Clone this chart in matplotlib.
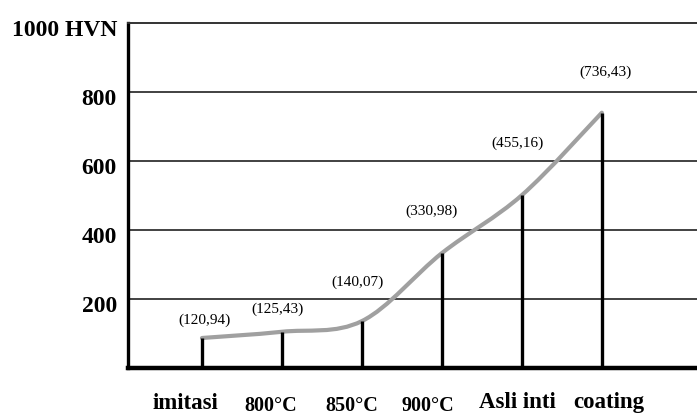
import numpy as np
import matplotlib
matplotlib.use("Agg")
import matplotlib.pyplot as plt
from matplotlib.path import Path
from matplotlib.patches import PathPatch
from matplotlib.transforms import ScaledTranslation

# data
categories = ["imitasi", "800°C", "850°C", "900°C", "Asli inti", "coating"]
stem_heights = [87, 105, 136, 333, 501, 740]          # drawn height of each stem
value_labels = ["(120,94)", "(125,43)", "(140,07)", "(330,98)", "(455,16)", "(736,43)"]
y_ticks = [200, 400, 600, 800, 1000]
y_tick_labels = ["200", "400", "600", "800", "1000 HVN"]

# placement tweaks (pixels)
label_dx = [3, -4, -4, -10, -4, 4]
label_dy = [18, 23, 39, 42, 52, 40]
cat_dx = [-17, -11, -10, -14, -4, 7]
cat_size = [16.5, 14.5, 14.5, 14.5, 16.5, 16.5]
cat_base = [-0.120, -0.124, -0.124, -0.124, -0.116, -0.116]

plt.rcParams['font.family'] = ['Liberation Serif', 'DejaVu Serif']

fig = plt.figure(figsize=(6.97, 4.16), dpi=100)
ax = fig.add_axes([128 / 697, 1 - 368 / 416, 1 - 128 / 697, 345 / 416])

x = np.arange(len(categories))
ax.set_xlim(-0.925, 6.19)
ax.set_ylim(0, 1000)

# grid lines
for yv in y_ticks[:-1]:
    ax.axhline(yv, color='#333333', lw=1.3, zorder=1)

# smooth grey curve through stem tops (Catmull-Rom as bezier path)
pts = np.column_stack([x, stem_heights]).astype(float)
ext = np.vstack([pts[0], pts, pts[-1]])
verts = [tuple(pts[0])]
codes = [Path.MOVETO]
for i in range(len(pts) - 1):
    p0, p1, p2, p3 = ext[i], ext[i + 1], ext[i + 2], ext[i + 3]
    c1 = p1 + (p2 - p0) / 6
    c2 = p2 - (p3 - p1) / 6
    verts += [tuple(c1), tuple(c2), tuple(p2)]
    codes += [Path.CURVE4] * 3
ax.add_patch(PathPatch(Path(verts, codes), facecolor='none', edgecolor='#a0a0a0',
                       lw=3, capstyle='round', zorder=2))

# stems
ax.vlines(x, 0, stem_heights, color='black', lw=2.4, zorder=3)

# value labels
for xi, h, lab, dx, dy in zip(x, stem_heights, value_labels, label_dx, label_dy):
    ax.annotate(lab, (xi, h), xytext=(dx, dy), textcoords='offset pixels',
                ha='center', va='center', fontsize=11)

# category labels
for xi, lab, dx, fs, yb in zip(x, categories, cat_dx, cat_size, cat_base):
    t = ax.text(xi, yb, lab, transform=ax.get_xaxis_transform(), ha='center',
                va='baseline', fontsize=fs, fontweight='bold', clip_on=False)
    t.set_transform(t.get_transform() + ScaledTranslation(dx / 100, 0, fig.dpi_scale_trans))

# y axis
ax.set_xticks([])
ax.set_yticks(y_ticks)
ax.set_yticklabels(y_tick_labels, fontsize=17, fontweight='bold')
ax.tick_params(axis='y', length=0, pad=8)
for lab in ax.get_yticklabels():
    lab.set_transform(lab.get_transform() + ScaledTranslation(0, -0.05, fig.dpi_scale_trans))

ax.spines['right'].set_visible(False)
ax.spines['top'].set_linewidth(1.4)
ax.spines['top'].set_color('#333333')
ax.spines['left'].set_linewidth(2.4)
ax.spines['bottom'].set_linewidth(3.2)

fig.savefig("out.png", dpi=100)
